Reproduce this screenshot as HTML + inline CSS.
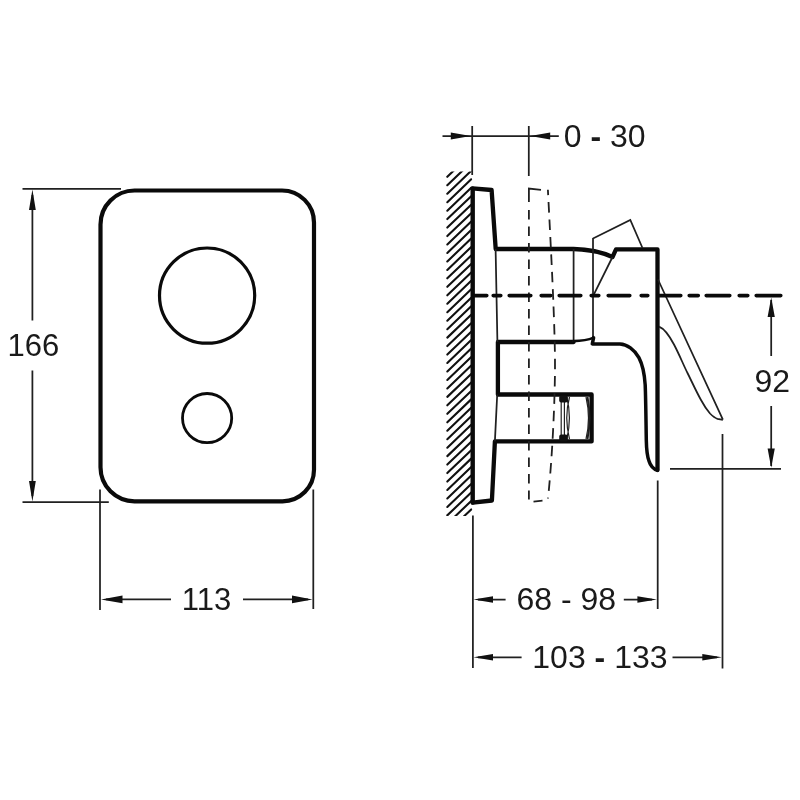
<!DOCTYPE html>
<html><head><meta charset="utf-8"><title>Dimensions</title>
<style>
html,body{margin:0;padding:0;background:#fff;}
body{width:800px;height:800px;overflow:hidden;}
svg{display:block;will-change:transform;}
text{font-family:"Liberation Sans",Arial,sans-serif;font-size:32px;fill:#1a1a1a;}
.thin{stroke:#202020;stroke-width:1.75;fill:none;}
.thick{stroke:#0a0a0a;stroke-width:4.3;fill:none;stroke-linejoin:round;stroke-linecap:round;}
.med{stroke:#0a0a0a;stroke-width:2.8;fill:none;}
.dashs{stroke:#202020;stroke-width:1.8;fill:none;}
.arr{fill:#111;stroke:none;}
</style></head><body>
<svg width="800" height="800" viewBox="0 0 800 800">
<rect width="800" height="800" fill="#fff"/>

<!-- LEFT VIEW -->
<path class="thick" style="stroke-width:4.2" d="M134.5 190.5H282A32 32 0 0 1 314 222.5V469.8A31.5 31.5 0 0 1 282.5 501.3H134.5A34 34 0 0 1 100.5 467.3V224.5A34 34 0 0 1 134.5 190.5Z"/>
<circle cx="207.1" cy="295.6" r="47.6" class="med" style="stroke-width:3.2"/>
<circle cx="207.1" cy="418.1" r="24.6" class="med" style="stroke-width:2.8"/>

<!-- 166 dim -->
<path class="thin" d="M22.5 188.8H121 M22.5 502H108.8 M32.4 195V320.5 M32.4 370.5V496"/>
<path class="arr" d="M32.4 189.6L29 210H35.8Z M32.4 501.4L29 481H35.8Z"/>
<text x="7.5" y="355.9" style="font-size:31px">166</text>

<!-- 113 dim -->
<path class="thin" d="M100 489.5V610 M313.3 489.5V609 M106 599.4H171 M243 599.4H308"/>
<path class="arr" d="M101 599.4L122.5 595.6V603.2Z M312.5 599.4L292 595.6V603.2Z"/>
<text x="181.8" y="609.9" style="font-size:31px">113</text>

<!-- RIGHT VIEW -->
<!-- hatch -->
<clipPath id="hc"><rect x="445" y="171.4" width="27.4" height="344.6"/></clipPath>
<g clip-path="url(#hc)" stroke="#111" stroke-width="2.1" stroke-linecap="round" fill="none">
<line x1="447.3" y1="176.78" x2="471.2" y2="153.88"/>
<line x1="447.3" y1="185.25" x2="471.2" y2="162.35"/>
<line x1="447.3" y1="193.72" x2="471.2" y2="170.81"/>
<line x1="447.3" y1="202.18" x2="471.2" y2="179.28"/>
<line x1="447.3" y1="210.65" x2="471.2" y2="187.75"/>
<line x1="447.3" y1="219.11" x2="471.2" y2="196.21"/>
<line x1="447.3" y1="227.58" x2="471.2" y2="204.68"/>
<line x1="447.3" y1="236.04" x2="471.2" y2="213.14"/>
<line x1="447.3" y1="244.51" x2="471.2" y2="221.61"/>
<line x1="447.3" y1="252.97" x2="471.2" y2="230.07"/>
<line x1="447.3" y1="261.44" x2="471.2" y2="238.53"/>
<line x1="447.3" y1="269.90" x2="471.2" y2="247.00"/>
<line x1="447.3" y1="278.36" x2="471.2" y2="255.46"/>
<line x1="447.3" y1="286.83" x2="471.2" y2="263.93"/>
<line x1="447.3" y1="295.29" x2="471.2" y2="272.39"/>
<line x1="447.3" y1="303.76" x2="471.2" y2="280.86"/>
<line x1="447.3" y1="312.22" x2="471.2" y2="289.32"/>
<line x1="447.3" y1="320.69" x2="471.2" y2="297.79"/>
<line x1="447.3" y1="329.15" x2="471.2" y2="306.25"/>
<line x1="447.3" y1="337.62" x2="471.2" y2="314.72"/>
<line x1="447.3" y1="346.08" x2="471.2" y2="323.18"/>
<line x1="447.3" y1="354.55" x2="471.2" y2="331.65"/>
<line x1="447.3" y1="363.01" x2="471.2" y2="340.11"/>
<line x1="447.3" y1="371.48" x2="471.2" y2="348.58"/>
<line x1="447.3" y1="379.94" x2="471.2" y2="357.04"/>
<line x1="447.3" y1="388.41" x2="471.2" y2="365.51"/>
<line x1="447.3" y1="396.87" x2="471.2" y2="373.97"/>
<line x1="447.3" y1="405.34" x2="471.2" y2="382.44"/>
<line x1="447.3" y1="413.80" x2="471.2" y2="390.90"/>
<line x1="447.3" y1="422.27" x2="471.2" y2="399.37"/>
<line x1="447.3" y1="430.73" x2="471.2" y2="407.83"/>
<line x1="447.3" y1="439.20" x2="471.2" y2="416.30"/>
<line x1="447.3" y1="447.66" x2="471.2" y2="424.76"/>
<line x1="447.3" y1="456.13" x2="471.2" y2="433.23"/>
<line x1="447.3" y1="464.59" x2="471.2" y2="441.69"/>
<line x1="447.3" y1="473.06" x2="471.2" y2="450.16"/>
<line x1="447.3" y1="481.52" x2="471.2" y2="458.62"/>
<line x1="447.3" y1="489.99" x2="471.2" y2="467.09"/>
<line x1="447.3" y1="498.45" x2="471.2" y2="475.55"/>
<line x1="447.3" y1="506.92" x2="471.2" y2="484.02"/>
<line x1="447.3" y1="515.38" x2="471.2" y2="492.48"/>
<line x1="447.3" y1="523.85" x2="471.2" y2="500.95"/>
<line x1="447.3" y1="532.31" x2="471.2" y2="509.41"/>
<line x1="447.3" y1="540.78" x2="471.2" y2="517.88"/>
</g>
<!-- wall / plate back -->
<path class="thick" style="stroke-width:4.4" d="M472.7 188.6V502.6"/>
<!-- plate top & bottom -->
<path class="thick" d="M472.4 188.4L491.6 190L495.7 249H573.5Q596 249.5 612.5 257L616 249.4H657.5V470"/>
<path class="thick" d="M472.7 502.6L491.9 500.5L494.9 441.4H591.6V394.5H497.9V342H573.6"/>
<!-- body thin lines -->
<path class="thin" d="M495.6 249L497.4 342 M573.6 249V342 M593 238V338 M497.2 394.5L494.9 441.4"/>
<!-- spout -->
<path class="thick" style="stroke-width:3.5" d="M593.6 337.6L592.3 343.9H620C627 344.2 634.5 349.5 638.9 357.6C641.5 362.5 644.5 374 645.2 385C645.8 400 646 423 646.3 440C646.5 452 647.5 457 649 461C650.5 466 653 469 657.5 470.2"/>
<path class="thick" style="stroke-width:2.6;stroke-linecap:butt" d="M573 341.1C582 340.9 588 340 593.6 337.6"/>
<!-- raised handle thin -->
<path class="thin" d="M593 238.5L630.3 220L642.5 248 M612.5 257L593.4 295.3"/>
<!-- lever -->
<path class="thin" style="stroke-linejoin:round" d="M658 279.5L722.9 419.6 M659 326.6C664 328.5 669 335 674 344.5C680 356 683 364 687.5 373C692 382 696 391 701 400C704.5 406.5 707 410 710 413.5C713 416.5 715.5 418.2 717.5 418.8L722.9 419.8"/>
<!-- diverter details -->
<path class="thin" style="stroke-width:1.2" d="M561.2 397V439 M564.4 397V439 M569.5 397Q564 418 569.5 439 M566.8 397Q572 418 566.8 439 M586 397Q591 418 586 439"/>
<path class="thin" style="stroke-width:2" d="M587.5 397Q591.5 418 587.5 439"/>
<rect x="559.2" y="395.5" width="8.6" height="7" rx="2" fill="#111"/>
<rect x="559.2" y="434.6" width="8.6" height="7" rx="2" fill="#111"/>
<!-- dashed plate -->
<path class="dashs" d="M528.9 202V188.6L541 189.8 M533.5 501.6L542.5 500.7"/>
<path class="dashs" style="stroke-dasharray:9.5 7" d="M528.9 210V499.5"/>
<path class="dashs" style="stroke-dasharray:10.5 6.9;stroke-dashoffset:5" d="M547.9 189.8C551 250 555.3 330 555 370C554.6 410 552 460 548 498.5"/>
<!-- center line -->
<path d="M474.2 295.6H486.8 M493.2 295.6H500.8 M509.2 295.6H530.8 M541.2 295.6H550.8 M559.2 295.6H580.8 M591.2 295.6H598.8 M608.2 295.6H629.8 M641.2 295.6H647.8 M658.2 295.6H680.8 M689.2 295.6H698.3 M706.2 295.6H729.8 M739.2 295.6H747.8 M756.2 295.6H780.8" stroke="#0a0a0a" stroke-width="3.6" stroke-linecap="round" fill="none"/>

<!-- 0 - 30 dim -->
<path class="thin" d="M472.2 126V175 M528.8 126V176 M442.5 136.1H558.8"/>
<path class="arr" d="M470.8 136.1L450.8 132.6V139.6Z M530.2 136.1L550.2 132.6V139.6Z"/>
<text x="563.8" y="147">0 <tspan font-weight="bold">-</tspan> 30</text>

<!-- 92 dim -->
<path class="thin" d="M771.2 300V356 M771.2 406V466 M670 468.8H781 M722.5 434V668.5"/>
<path class="arr" d="M771.2 297.5L767.6 317H774.8Z M771.2 467.8L767.6 448.5H774.8Z"/>
<text x="754.5" y="392.2">92</text>

<!-- bottom dims -->
<path class="thin" d="M472.9 515.6V668 M657.7 480.5V609 M478 599.5H505.6 M623.8 599.5H652 M478 657.3H521.6 M672.5 657.3H717"/>
<path class="arr" d="M473.5 599.5L493 596.2V602.8Z M656.9 599.5L637.4 596.2V602.8Z M473.5 657.3L493 654V660.6Z M721.8 657.3L702.3 654V660.6Z"/>
<text x="516.5" y="610.1">68 - 98</text>
<text x="532.3" y="668.1">103 <tspan font-weight="bold">-</tspan> 133</text>
</svg>
</body></html>
